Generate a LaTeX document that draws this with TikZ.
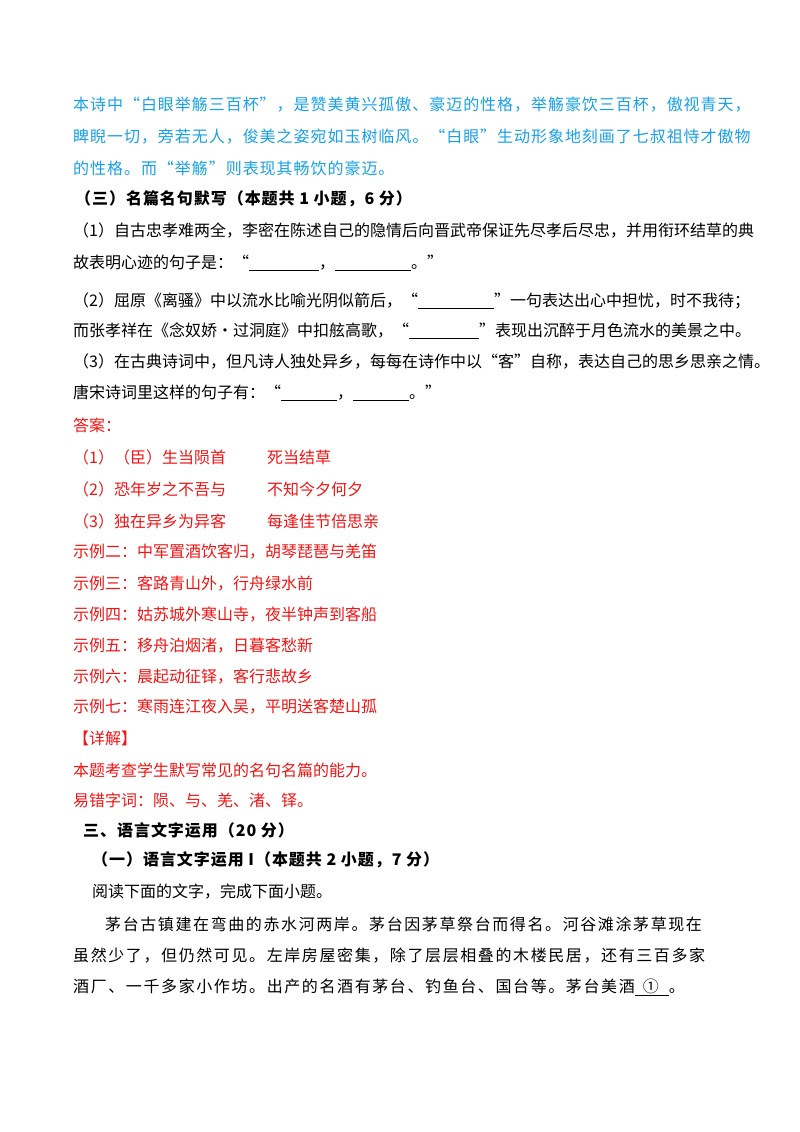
\documentclass[tikz,border=0pt]{standalone}
\usepackage{fontspec}
\setmainfont{Noto Sans CJK SC}
\newfontfamily\wide[LetterSpace=10]{Noto Sans CJK SC}
\newfontfamily\bwide[LetterSpace=6]{Noto Sans CJK SC}
\definecolor{bl}{RGB}{24,160,230}
\definecolor{rd}{RGB}{240,20,20}
\newcommand{\blk}[1]{\underline{\hspace{#1pt}}}
\begin{document}
\begin{tikzpicture}[x=1pt,y=-1pt,
  t/.style={anchor=west,inner sep=0,font=\fontsize{16}{18}\selectfont},
  b/.style={t,font=\fontsize{16}{18}\bwide\bfseries},
  w/.style={t,font=\fontsize{16}{18}\wide},
  blu/.style={t,text=bl,font=\fontsize{16}{18}\bwide},
  red/.style={t,text=rd}]
\useasboundingbox (0,0) rectangle (800,1132);
\node[blu] (l1) at (73,105) {本诗中“白眼举觞三百杯”，是赞美黄兴孤傲、豪迈的性格，举觞豪饮三百杯，傲视青天，};
\node[blu] (l2) at (73,137) {睥睨一切，旁若无人，俊美之姿宛如玉树临风。“白眼”生动形象地刻画了七叔祖恃才傲物};
\node[blu] (l3) at (73,168) {的性格。而“举觞”则表现其畅饮的豪迈。};
\node[b] (h1) at (75,199) {（三）名篇名句默写（本题共 1 小题，6 分）};
\node[t] (q1) at (73,231) {（1）自古忠孝难两全，李密在陈述自己的隐情后向晋武帝保证先尽孝后尽忠，并用衔环结草的典};
\node[t] (q1b) at (73,263) {故表明心迹的句子是：“\blk{70}，\blk{76}。”};
\node[t] (q2) at (73,301) {（2）屈原《离骚》中以流水比喻光阴似箭后，“\blk{76}”一句表达出心中担忧，时不我待；};
\node[t] (q2b) at (73,331) {而张孝祥在《念奴娇·过洞庭》中扣舷高歌，“\blk{70}”表现出沉醉于月色流水的美景之中。};
\node[t] (q3) at (73,362) {（3）在古典诗词中，但凡诗人独处异乡，每每在诗作中以“客”自称，表达自己的思乡思亲之情。};
\node[t] (q3b) at (73,393) {唐宋诗词里这样的句子有：“\blk{56}，\blk{56}。”};
\node[red] (a0) at (73,425) {答案：};
\node[red] (a1) at (73,457) {（1）（臣）生当陨首};
\node[red] (a1b) at (267,457) {死当结草};
\node[red] (a2) at (73,489) {（2）恐年岁之不吾与};
\node[red] (a2b) at (267,489) {不知今夕何夕};
\node[red] (a3) at (73,521) {（3）独在异乡为异客};
\node[red] (a3b) at (267,521) {每逢佳节倍思亲};
\node[red] (e2) at (73,552) {示例二：中军置酒饮客归，胡琴琵琶与羌笛};
\node[red] (e3) at (73,584) {示例三：客路青山外，行舟绿水前};
\node[red] (e4) at (73,615) {示例四：姑苏城外寒山寺，夜半钟声到客船};
\node[red] (e5) at (73,646) {示例五：移舟泊烟渚，日暮客愁新};
\node[red] (e6) at (73,677) {示例六：晨起动征铎，客行悲故乡};
\node[red] (e7) at (73,707) {示例七：寒雨连江夜入吴，平明送客楚山孤};
\node[red] (x0) at (73,738) {【详解】};
\node[red] (x1) at (73,770) {本题考查学生默写常见的名句名篇的能力。};
\node[red] (x2) at (73,800) {易错字词：陨、与、羌、渚、铎。};
\node[b] (s3) at (83,830) {三、语言文字运用（20 分）};
\node[b] (s31) at (92,860) {（一）语言文字运用 I（本题共 2 小题，7 分）};
\node[t] (r0) at (92,892) {阅读下面的文字，完成下面小题。};
\node[w] (p1) at (105,924) {茅台古镇建在弯曲的赤水河两岸。茅台因茅草祭台而得名。河谷滩涂茅草现在};
\node[w] (p2) at (73,956) {虽然少了，但仍然可见。左岸房屋密集，除了层层相叠的木楼民居，还有三百多家};
\node[w] (p3) at (73,987) {酒厂、一千多家小作坊。出产的名酒有茅台、钓鱼台、国台等。茅台美酒\underline{\hspace{8pt}①\hspace{10pt}}。};
\end{tikzpicture}
\end{document}
